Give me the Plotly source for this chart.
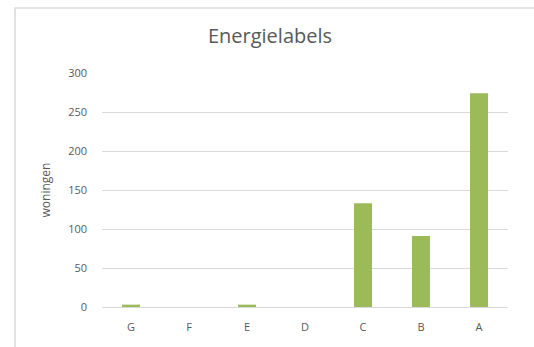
import plotly.graph_objects as go

# Energy label categories and number of dwellings per label
labels = ["G", "F", "E", "D", "C", "B", "A"]
woningen = [3, 0, 3, 0, 133, 91, 274]
y_ticks = [0, 50, 100, 150, 200, 250, 300]

W, H = 534, 347
L, R, T, B = 102, 26, 73, 40
pw, ph = W - L - R, H - T - B

def px_to_paper_x(px):
    return (px - L) / pw

def px_to_paper_y(py):
    return (H - B - py) / ph

fig = go.Figure(
    go.Bar(
        x=labels,
        y=woningen,
        marker=dict(color="#9BBB59", line=dict(width=0)),
        width=0.31,
    )
)

fig.update_layout(
    width=W,
    height=H,
    margin=dict(l=L, r=R, t=T, b=B),
    paper_bgcolor="white",
    plot_bgcolor="white",
    font=dict(family="Open Sans, Liberation Sans, sans-serif", color="#595959", size=11),
    title=dict(
        text="Energielabels",
        x=270 / W,
        xanchor="center",
        y=1 - 36 / H,
        yanchor="middle",
        font=dict(size=20, color="#595959"),
    ),
    showlegend=False,
    shapes=[
        dict(
            type="rect",
            xref="paper",
            yref="paper",
            x0=px_to_paper_x(15),
            x1=px_to_paper_x(560),
            y0=px_to_paper_y(370),
            y1=px_to_paper_y(8),
            line=dict(color="#D9D9D9", width=1.5),
            fillcolor="rgba(0,0,0,0)",
            layer="below",
        )
    ],
)

fig.update_xaxes(
    showgrid=False,
    showline=False,
    zeroline=False,
    ticks="",
    tickfont=dict(size=11, color="#595959"),
    ticklabelstandoff=12,
)

fig.update_yaxes(
    range=[0, 300],
    tickvals=y_ticks,
    showgrid=True,
    gridcolor="#D9D9D9",
    gridwidth=1,
    zeroline=True,
    zerolinecolor="#D9D9D9",
    zerolinewidth=1,
    showline=False,
    ticks="",
    tickfont=dict(size=11, color="#595959"),
    ticklabelstandoff=14,
    title=dict(text="woningen", font=dict(size=12, color="#595959"), standoff=14),
)

fig.write_html("out.html")
